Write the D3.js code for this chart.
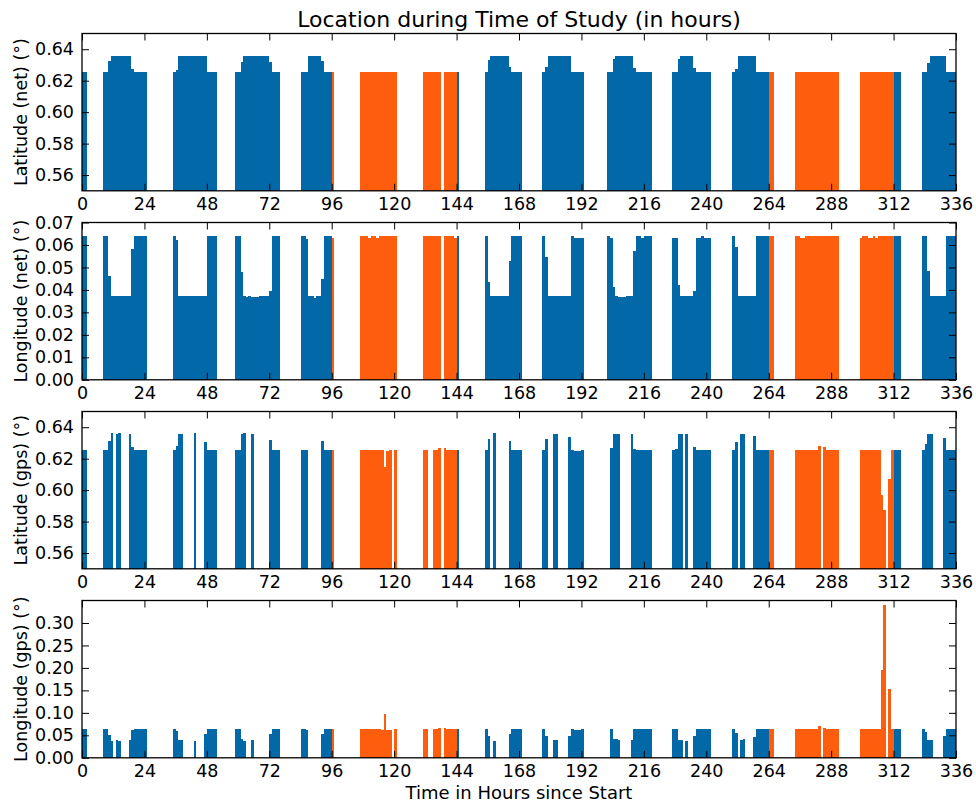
<!DOCTYPE html>
<html>
<head>
<meta charset="utf-8">
<script src="https://cdn.jsdelivr.net/npm/d3@7"></script>
<style>
body { margin: 0; background: #fff; }
</style>
</head>
<body>
<div id="chart"></div>
<script>
// hour runs: [first hour, last hour, value]
var latNetRuns = [
    [0,1,0.6257],
    [8,9,0.6257],[10,10,0.6325],[11,18,0.6357],[19,19,0.6273],[20,24,0.6257],
    [35,35,0.6257],[36,36,0.6265],[37,47,0.6357],[48,51,0.6257],
    [59,60,0.6257],[61,61,0.6317],[62,71,0.6357],[72,72,0.6317],[73,75,0.6257],
    [84,86,0.6257],[87,91,0.6357],[92,92,0.6325],[93,95,0.6257],
    [96,96,0.6257],[107,120,0.6257],[131,137,0.6257],[139,143,0.6257],[144,144,0.6257],
    [155,155,0.6257],[156,156,0.633],[157,163,0.6357],[164,164,0.629],[165,168,0.6257],
    [177,177,0.6257],[178,178,0.6289],[179,187,0.6357],[188,192,0.6257],
    [202,203,0.6257],[204,204,0.634],[205,211,0.6357],[212,212,0.6283],[213,218,0.6257],
    [227,228,0.6257],[229,229,0.6336],[230,234,0.6357],[235,235,0.6283],[236,241,0.6257],
    [250,250,0.6257],[251,251,0.6273],[252,258,0.6357],[259,263,0.6257],
    [264,265,0.6257],[274,290,0.6257],[299,311,0.6257],[312,314,0.6257],
    [323,324,0.6257],[325,325,0.6315],[326,331,0.6357],[332,335,0.6257]
];

var lonNetRuns = [
    [0,1,0.0638],
    [8,9,0.0638],[10,10,0.0463],[11,15,0.0371],[16,17,0.0374],[18,18,0.0371],[19,19,0.0583],[20,24,0.0638],
    [35,35,0.0638],[36,36,0.062],[37,42,0.0371],[43,45,0.0374],[46,46,0.0371],[47,47,0.0374],[48,51,0.0638],
    [59,60,0.0638],[61,61,0.0478],[62,62,0.0374],[63,63,0.0368],[64,64,0.0374],[65,67,0.0368],[68,71,0.0374],[72,72,0.0397],[73,75,0.0638],
    [84,85,0.0638],[86,86,0.0627],[87,87,0.0374],[88,88,0.0371],[89,89,0.0362],[90,91,0.0374],[92,92,0.0449],[93,95,0.0638],
    [96,96,0.0633],
    [107,109,0.0638],[110,110,0.0633],[111,112,0.0638],[113,113,0.0633],[114,120,0.0638],
    [131,137,0.0638],[139,142,0.0638],[143,143,0.0633],[144,144,0.0638],
    [155,155,0.0638],[156,156,0.0433],[157,158,0.0371],[159,159,0.0374],[160,162,0.0371],[163,163,0.0374],[164,164,0.0529],[165,168,0.0638],
    [177,177,0.0638],[178,178,0.0546],[179,184,0.0371],[185,185,0.0374],[186,187,0.0371],[188,188,0.0638],[189,192,0.0633],
    [202,202,0.0638],[203,203,0.0633],[204,204,0.0411],[205,205,0.0374],[206,208,0.0368],[209,211,0.0374],[212,212,0.0571],[213,214,0.0638],[215,215,0.0633],[216,218,0.0638],
    [227,228,0.0633],[229,229,0.0423],[230,234,0.0371],[235,235,0.0397],[236,237,0.0633],[238,238,0.0638],[239,241,0.0633],
    [250,250,0.0638],[251,251,0.0589],[252,252,0.0374],[253,254,0.0371],[255,258,0.0374],[259,263,0.0638],
    [264,265,0.0638],
    [274,275,0.0638],[276,277,0.0633],[278,290,0.0638],
    [299,299,0.0633],[300,301,0.0638],[302,303,0.0633],[304,304,0.0638],[305,305,0.0633],[306,311,0.0638],
    [312,314,0.0638],
    [323,324,0.0638],[325,325,0.0486],[326,331,0.0371],[332,335,0.0638]
];

var latGpsRuns = [
    [0,1,0.6256],
    [8,9,0.6256],[10,10,0.6313],[11,11,0.6362],[13,13,0.6358],[14,14,0.6362],[18,18,0.6358],[19,19,0.6275],[20,24,0.6256],
    [35,35,0.6256],[36,36,0.6281],[37,38,0.6358],[43,43,0.6362],[47,47,0.6307],[48,51,0.6256],
    [59,60,0.6256],[61,61,0.6358],[62,62,0.6362],[65,65,0.6358],[72,72,0.6321],[73,75,0.6256],
    [84,86,0.6256],[92,92,0.6313],[93,95,0.6256],
    [96,96,0.6256],
    [107,115,0.6256],[116,116,0.615],[117,117,0.625],[118,118,0.6256],[120,120,0.6256],
    [131,132,0.6256],[135,136,0.6256],[137,137,0.6267],[139,139,0.6267],[140,143,0.6256],
    [144,144,0.6256],
    [155,155,0.6256],[156,156,0.6324],[158,158,0.6362],[164,164,0.6313],[165,168,0.6256],
    [177,177,0.6256],[178,178,0.6324],[181,182,0.6358],[187,187,0.6337],[188,188,0.6256],[189,191,0.625],[192,192,0.6256],
    [203,203,0.6269],[204,206,0.6358],[211,211,0.6358],[212,212,0.6262],[213,218,0.6256],
    [227,227,0.6256],[228,228,0.6262],[229,230,0.6358],[232,232,0.6358],[235,235,0.6277],[236,241,0.6256],
    [250,250,0.6256],[251,251,0.6303],[253,254,0.6358],[258,258,0.6345],[259,263,0.6256],
    [264,265,0.6256],
    [274,282,0.6256],[283,283,0.6281],[285,285,0.6273],[286,290,0.6256],
    [299,306,0.6256],[307,307,0.597],[308,308,0.5871],[310,310,0.6072],[311,311,0.6256],
    [312,314,0.6256],
    [323,323,0.6256],[324,324,0.6292],[325,326,0.6358],[331,331,0.6334],[332,335,0.6256]
];

var lonGpsRuns = [
    [0,1,0.0643],
    [8,9,0.0643],[10,10,0.051],[11,11,0.0384],[13,13,0.040],[14,14,0.0384],[18,18,0.040],[19,19,0.062],[20,24,0.0643],
    [35,35,0.0643],[36,36,0.0606],[37,38,0.040],[43,43,0.0384],[47,47,0.0532],[48,51,0.0643],
    [59,60,0.0643],[61,61,0.0414],[62,62,0.0384],[65,65,0.040],[72,72,0.0532],[73,75,0.0643],
    [84,85,0.0643],[86,86,0.062],[92,92,0.0532],[93,95,0.0643],
    [96,96,0.0643],
    [107,114,0.0643],[115,115,0.062],[116,116,0.0975],[117,118,0.062],[120,120,0.0643],
    [131,132,0.0643],[135,136,0.0643],[137,137,0.0672],[139,139,0.0672],[140,143,0.0643],
    [144,144,0.0643],
    [155,155,0.0643],[156,156,0.0488],[158,158,0.0384],[164,164,0.0532],[165,168,0.0643],
    [177,177,0.0643],[178,178,0.0488],[181,182,0.040],[187,187,0.0488],[188,188,0.0643],[189,191,0.062],[192,192,0.0643],
    [203,203,0.0643],[204,205,0.042],[206,206,0.040],[211,211,0.040],[212,218,0.0643],
    [227,228,0.0643],[229,230,0.040],[232,232,0.0384],[235,235,0.0488],[236,241,0.0643],
    [250,250,0.0643],[251,251,0.0547],[253,253,0.040],[254,254,0.042],[258,258,0.0466],[259,263,0.0643],
    [264,265,0.0643],
    [274,282,0.0643],[283,283,0.0709],[285,285,0.0672],[286,290,0.0643],
    [299,306,0.0643],[307,307,0.195],[308,308,0.339],[310,310,0.153],[311,311,0.0643],
    [312,314,0.0643],
    [323,323,0.0643],[324,324,0.058],[325,326,0.040],[331,331,0.0488],[332,335,0.0643]
];

var xTicks = [0, 24, 48, 72, 96, 120, 144, 168, 192, 216, 240, 264, 288, 312, 336];
var latTicks = [0.56, 0.58, 0.60, 0.62, 0.64];
var lonNetTicks = [0.00, 0.01, 0.02, 0.03, 0.04, 0.05, 0.06, 0.07];
var lonGpsTicks = [0.00, 0.05, 0.10, 0.15, 0.20, 0.25, 0.30];
var weekendDays = [4, 5, 11, 12];   // days drawn in orange

var panels = [
    { label: "Latitude (net) (°)", runs: latNetRuns, domain: [0.55, 0.65], ticks: latTicks },
    { label: "Longitude (net) (°)", runs: lonNetRuns, domain: [0, 0.07], ticks: lonNetTicks },
    { label: "Latitude (gps) (°)", runs: latGpsRuns, domain: [0.55, 0.65], ticks: latTicks },
    { label: "Longitude (gps) (°)", runs: lonGpsRuns, domain: [0, 0.35], ticks: lonGpsTicks }
];

var width = 976, height = 805;
var left = 82, right = 956, firstTop = 33.5, plotH = 157.3, step = 189;
var blue = "#0368a8", orange = "#fe5d0e";
var font = "DejaVu Sans";

var svg = d3.select("#chart").append("svg")
    .attr("width", width)
    .attr("height", height);

var x = d3.scaleLinear().domain([0, 336]).range([left, right]);

svg.append("text")
    .attr("x", (left + right) / 2)
    .attr("y", 26.5)
    .attr("text-anchor", "middle")
    .attr("font-family", font)
    .attr("font-size", 22)
    .text("Location during Time of Study (in hours)");

panels.forEach(function(p, i) {
    var top = firstTop + i * step;
    var y = d3.scaleLinear().domain(p.domain).range([top + plotH, top]);

    // one bar per hour
    var bars = [];
    p.runs.forEach(function(r) {
        for (var h = r[0]; h <= r[1]; h++) bars.push({ hour: h, value: r[2] });
    });

    var g = svg.append("g");

    g.selectAll("rect.bar")
        .data(bars)
        .enter().append("rect")
        .attr("class", "bar")
        .attr("x", function(d) { return x(d.hour); })
        .attr("width", function(d) { return x(d.hour + 1) - x(d.hour); })
        .attr("y", function(d) { return y(d.value); })
        .attr("height", function(d) { return y(p.domain[0]) - y(d.value); })
        .attr("shape-rendering", "crispEdges")
        .attr("fill", function(d) {
            return weekendDays.indexOf(Math.floor(d.hour / 24)) >= 0 ? orange : blue;
        });

    // ticks point inwards on all four sides
    var fmt = d3.format(".2f");
    var axes = [
        g.append("g").attr("transform", "translate(0," + (top + plotH) + ")")
            .call(d3.axisBottom(x).tickValues(xTicks).tickSizeInner(-7).tickSizeOuter(0).tickPadding(7)),
        g.append("g").attr("transform", "translate(0," + top + ")")
            .call(d3.axisTop(x).tickValues(xTicks).tickSizeInner(-7).tickSizeOuter(0).tickFormat("")),
        g.append("g").attr("transform", "translate(" + left + ",0)")
            .call(d3.axisLeft(y).tickValues(p.ticks).tickSizeInner(-7).tickSizeOuter(0).tickPadding(8).tickFormat(fmt)),
        g.append("g").attr("transform", "translate(" + right + ",0)")
            .call(d3.axisRight(y).tickValues(p.ticks).tickSizeInner(-7).tickSizeOuter(0).tickFormat(""))
    ];
    axes.forEach(function(a) {
        a.select(".domain").remove();
        a.attr("font-family", font).attr("font-size", 17.5);
        a.selectAll("line").attr("stroke", "#000").attr("stroke-width", 1);
        a.selectAll("text").attr("fill", "#000");
    });

    g.append("rect")
        .attr("x", left)
        .attr("y", top)
        .attr("width", right - left)
        .attr("height", plotH)
        .attr("fill", "none")
        .attr("stroke", "#000")
        .attr("stroke-width", 1.3);

    g.append("text")
        .attr("transform", "translate(27," + (top + plotH / 2) + ") rotate(-90)")
        .attr("text-anchor", "middle")
        .attr("font-family", font)
        .attr("font-size", 17.5)
        .text(p.label);
});

svg.append("text")
    .attr("x", (left + right) / 2)
    .attr("y", 798.5)
    .attr("text-anchor", "middle")
    .attr("font-family", font)
    .attr("font-size", 18)
    .text("Time in Hours since Start");
</script>
</body>
</html>
